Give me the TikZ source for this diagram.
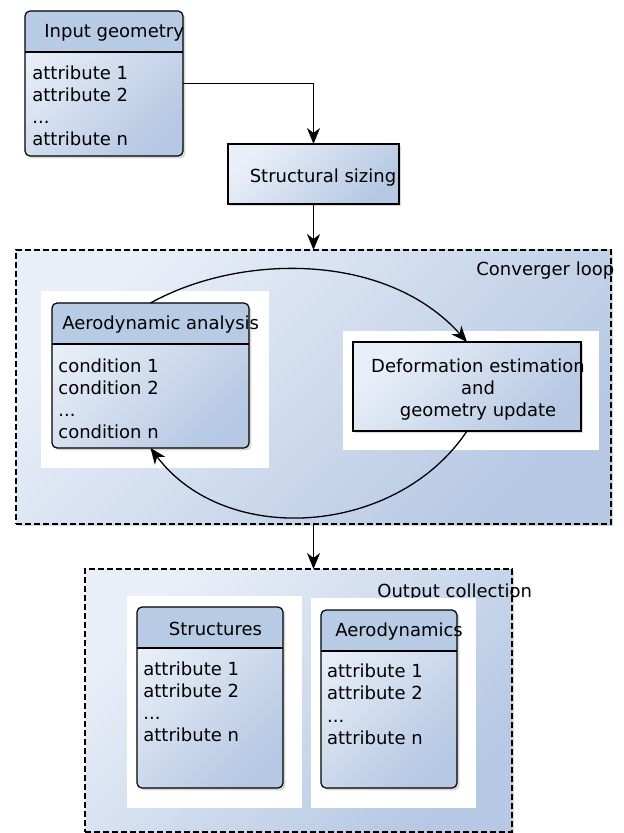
\documentclass[tikz,border=0pt]{standalone}
\usepackage{fontspec}
\setmainfont{DejaVu Sans}
\usetikzlibrary{arrows.meta,shadows}

\definecolor{headblue}{RGB}{184,203,228}
\definecolor{paleblue}{RGB}{233,239,248}
\definecolor{steelblue}{RGB}{182,200,227}

\tikzset{
  boxshade/.style={top color=paleblue, bottom color=steelblue, shading angle=45},
  shadowed/.style={drop shadow={shadow xshift=1.2pt, shadow yshift=-1.2pt, opacity=0.3}},
  classbox/.style={draw, line width=0.6pt, rounded corners=2.5pt, inner sep=0pt, outer sep=0pt, boxshade, shadowed,
    path picture={
      \fill[headblue] (path picture bounding box.north west) rectangle ([yshift=-20.5pt]path picture bounding box.north east);
      \draw[line width=0.6pt] ([yshift=-20.5pt]path picture bounding box.north west) -- ([yshift=-20.5pt]path picture bounding box.north east);}},
  procbox/.style={draw, line width=0.6pt, inner sep=0pt, outer sep=0pt, boxshade, shadowed},
  groupbox/.style={draw, dash pattern=on 3pt off 1.5pt, line width=0.6pt, inner sep=0pt, outer sep=0pt, boxshade, shadowed},
  pane/.style={fill=white, inner sep=0pt, outer sep=0pt},
  itemlist/.style={align=left, inner sep=0pt, anchor=north west},
  flow/.style={-{Stealth[length=8pt,width=6.5pt,inset=2.5pt]}, line width=0.65pt},
}

\begin{document}
\begin{tikzpicture}[x=0.5pt, y=-0.5pt, font=\fontsize{9}{11.1}\selectfont]
  \useasboundingbox (0,0) rectangle (624,833);
  % input and sizing
  \node[classbox, minimum width=79pt, minimum height=72.5pt] (ingeo) at (104,83.5) {};
  \node[anchor=base west, inner sep=0pt] (ingeotitle) at (44,38) {Input geometry};
  \node[itemlist] (ingeoattr) at (32,65.3) {attribute 1\\attribute 2\\...\\attribute n};
  \node[procbox, minimum width=85.5pt, minimum height=30pt] (sizing) at (313.5,174) {};
  \node[anchor=base, inner sep=0pt] (sizinglabel) at (323,183) {Structural sizing};
  % converger loop
  \node[groupbox, minimum width=297.5pt, minimum height=137pt] (loop) at (313.5,387) {};
  \node[anchor=base west, inner sep=0pt] (looplabel) at (476,276) {Converger loop};
  \node[pane, minimum width=114pt, minimum height=88.5pt] (aeropane) at (155,379.5) {};
  \node[pane, minimum width=128pt, minimum height=59.5pt] (defopane) at (471,390.5) {};
  \node[classbox, minimum width=98.5pt, minimum height=72.5pt] (aero) at (150.5,375.5) {};
  \node[anchor=base west, inner sep=0pt] (aerotitle) at (62,329) {Aerodynamic analysis};
  \node[itemlist] (aeroattr) at (58,358) {condition 1\\condition 2\\...\\condition n};
  \node[procbox, minimum width=114pt, minimum height=44.5pt] (defo) at (467,386.5) {};
  \node[align=center, anchor=north, inner sep=0pt] (defolabel) at (478,358) {Deformation estimation\\and\\geometry update};
  % output collection
  \node[groupbox, minimum width=213.5pt, minimum height=131.5pt] (output) at (298.5,700.5) {};
  \node[anchor=base west, inner sep=0pt] (outputlabel) at (377,597) {Output collection};
  \node[pane, minimum width=87.5pt, minimum height=106pt] (structpane) at (214.5,702) {};
  \node[pane, minimum width=82.5pt, minimum height=105pt] (aerodynpane) at (393.5,703) {};
  \node[classbox, minimum width=73pt, minimum height=90.5pt] (struct) at (210,697.5) {};
  \node[anchor=base, inner sep=0pt] (structtitle) at (215.5,635) {Structures};
  \node[itemlist] (structattr) at (143,661.3) {attribute 1\\attribute 2\\...\\attribute n};
  \node[classbox, minimum width=68pt, minimum height=89pt] (aerodyn) at (389,699) {};
  \node[anchor=base west, inner sep=0pt] (aerodyntitle) at (335,636.7) {Aerodynamics};
  \node[itemlist] (aerodynattr) at (326.7,663.6) {attribute 1\\attribute 2\\...\\attribute n};
  % connectors
  \draw[flow] (ingeo.east) -| (sizing.north);
  \draw[flow] (sizing.south) -- (sizing.south |- loop.north);
  \draw[flow] (aero.north) .. controls +(90,-50) and +(-80,-90) .. (defo.north);
  \draw[flow] (defo.south) .. controls +(-70,105) and +(75,100) .. (aero.south);
  \draw[flow] (loop.south) -- (loop.south |- output.north);
\end{tikzpicture}
\end{document}
